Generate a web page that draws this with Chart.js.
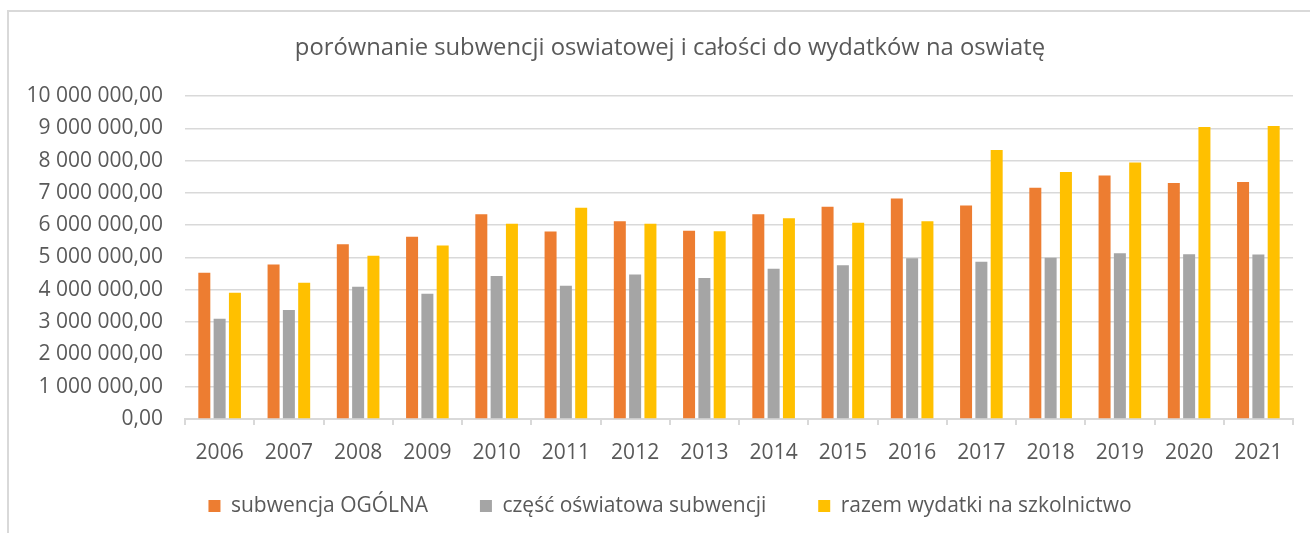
<!DOCTYPE html>
<html>
<head>
<meta charset="utf-8">
<script src="https://cdn.jsdelivr.net/npm/chart.js@4/dist/chart.umd.min.js"></script>
<style>
  html, body { margin: 0; padding: 0; background: #ffffff; overflow: hidden; width: 1310px; height: 533px; }
  #frame { position: absolute; left: 7px; top: 10px; width: 1400px; height: 600px;
           border-left: 2px solid #d9d9d9; border-top: 2px solid #d9d9d9; box-sizing: border-box; }
  #wrap { position: absolute; left: 0; top: 0; width: 1340px; height: 533px; }
</style>
</head>
<body>
<div id="frame"></div>
<div id="wrap"><canvas id="c" width="1340" height="533"></canvas></div>
<script>
const categories = ["2006","2007","2008","2009","2010","2011","2012","2013","2014","2015","2016","2017","2018","2019","2020","2021"];
const subwencjaOgolna = [4526000, 4784000, 5412000, 5639000, 6340000, 5804000, 6124000, 5825000, 6340000, 6567000, 6825000, 6608000, 7155000, 7536000, 7309000, 7340000];
const czescOswiatowa = [3103000, 3371000, 4093000, 3876000, 4423000, 4124000, 4474000, 4361000, 4649000, 4763000, 4979000, 4866000, 4990000, 5134000, 5103000, 5093000];
const razemWydatki = [3907000, 4216000, 5052000, 5371000, 6041000, 6536000, 6041000, 5814000, 6216000, 6072000, 6124000, 8330000, 7649000, 7938000, 9041000, 9072000];
const seriesNames = ["subwencja OGÓLNA", "część oświatowa subwencji", "razem wydatki na szkolnictwo"];
const chartTitle = "porównanie subwencji oswiatowej i całości do wydatków na oswiatę";
const yMin = 0, yMax = 10000000, yStep = 1000000;

function fmt(v) {
  const s = Math.round(v).toString().replace(/\B(?=(\d{3})+(?!\d))/g, " ");
  return s + ",00";
}

const FONT = "'Open Sans', sans-serif";
const TXT = "#595959";

new Chart(document.getElementById("c"), {
  type: "bar",
  data: {
    labels: categories,
    datasets: [
      { label: seriesNames[0], data: subwencjaOgolna, backgroundColor: "#ED7D31" },
      { label: seriesNames[1], data: czescOswiatowa, backgroundColor: "#A5A5A5" },
      { label: seriesNames[2], data: razemWydatki, backgroundColor: "#FFC000" }
    ]
  },
  options: {
    responsive: false,
    animation: false,
    devicePixelRatio: 1,
    datasets: { bar: { categoryPercentage: 0.663, barPercentage: 0.784 } },
    layout: { padding: { left: 0, right: 0, top: 0, bottom: 6.5 } },
    plugins: {
      tooltip: { enabled: false },
      title: {
        display: true, text: chartTitle, color: TXT,
        font: { family: FONT, size: 23.8, weight: "normal" },
        padding: { top: 34, bottom: 33.4 }
      },
      legend: {
        position: "bottom",
        labels: {
          color: TXT, font: { family: FONT, size: 21 },
          boxWidth: 12, boxHeight: 12, padding: 30,
          generateLabels: (chart) => {
            const items = Chart.defaults.plugins.legend.labels.generateLabels(chart);
            items.forEach((it, i) => { if (i < items.length - 1) it.text = it.text + "    "; });
            return items;
          }
        }
      }
    },
    scales: {
      x: {
        afterFit: (s) => { s.height = 46.5; },
        grid: { offset: true, drawOnChartArea: false, color: "#d9d9d9", lineWidth: 2, tickLength: 6 },
        border: { color: "#d9d9d9", width: 2 },
        ticks: { color: TXT, font: { family: FONT, size: 21 }, padding: 15, maxRotation: 0 }
      },
      y: {
        min: yMin, max: yMax,
        afterFit: (s) => { s.width = 185; },
        grid: { color: "#d9d9d9", lineWidth: 1.5, drawTicks: false },
        border: { display: false },
        ticks: { stepSize: yStep, color: TXT, font: { family: FONT, size: 21 }, padding: 22, callback: (v) => fmt(v) }
      },
      ySpacer: {
        position: "right",
        min: yMin, max: yMax,
        afterFit: (s) => { s.width = 47; },
        grid: { drawOnChartArea: false, drawTicks: false, display: false },
        border: { display: false },
        ticks: { display: false }
      }
    }
  }
});
</script>
</body>
</html>
